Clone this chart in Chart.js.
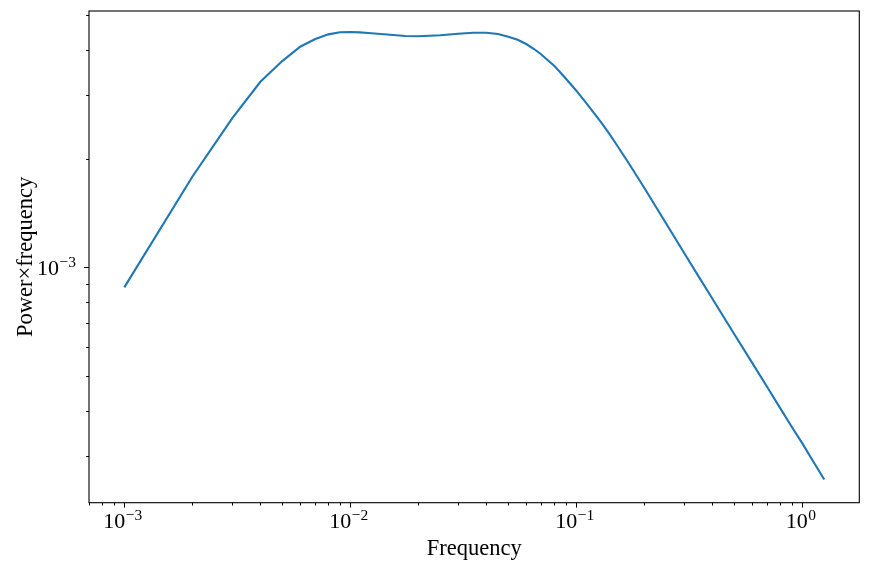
<!DOCTYPE html>
<html>
<head>
<meta charset="utf-8">
<script src="https://cdn.jsdelivr.net/npm/chart.js@4.4.1/dist/chart.umd.min.js"></script>
<style>
html,body{margin:0;padding:0;background:#fff;}
canvas{display:block;}
</style>
</head>
<body>
<canvas id="c" width="869" height="569"></canvas>
<script>
// ---- data ----
const freq = [0.001,0.002,0.003,0.004,0.005,0.006,0.007,0.008,0.009,0.010,0.011,0.012,0.015,0.0175,0.020,0.025,0.030,0.035,0.040,0.045,0.050,0.055,0.060,0.065,0.070,0.075,0.080,0.085,0.090,0.100,0.110,0.120,0.130,0.140,0.150,0.170,0.200,0.250,0.300,0.350,0.400,0.500,0.600,0.700,0.800,0.900,1.000,1.100,1.250];
const powerFreq = [0.000880,0.001782,0.002586,0.003266,0.003727,0.004083,0.004289,0.004419,0.004477,0.004486,0.004474,0.004457,0.004409,0.004373,0.004364,0.004392,0.004437,0.004466,0.004466,0.004428,0.004353,0.004270,0.004155,0.004025,0.003886,0.003740,0.003611,0.003464,0.003328,0.003085,0.002865,0.002671,0.002502,0.002341,0.002196,0.001948,0.001658,0.001320,0.001096,0.0009365,0.0008186,0.0006527,0.0005434,0.0004654,0.0004061,0.0003606,0.0003252,0.0002944,0.0002584];

// axis ranges and tick labels
const xRange = [6.98e-4, 1.786];
const yRange = [2.228e-4, 5.129e-3];
const xMajorTicks = [1e-3, 1e-2, 1e-1, 1];
const xTickExponents = ['\u22123', '\u22122', '\u22121', '0'];
const yMajorTicks = [1e-3];
const yTickExponents = ['\u22123'];
const xTitle = 'Frequency';
const yTitle = 'Power\u00D7frequency';

function logTicks(min, max, majors) {
  const out = [];
  for (let e = -6; e <= 2; e++) {
    for (let k = 1; k <= 9; k++) {
      const v = k * Math.pow(10, e);
      if (v >= min * 0.9999 && v <= max * 1.0001) {
        out.push({ value: v, major: majors.some(m => Math.abs(m - v) / m < 1e-9) });
      }
    }
  }
  return out;
}

const SERIF = '"Liberation Serif", "DejaVu Serif", serif';

const decor = {
  id: 'decor',
  afterDraw(chart) {
    const ctx = chart.ctx, a = chart.chartArea;
    const xs = chart.scales.x, ys = chart.scales.y;
    ctx.save();
    ctx.strokeStyle = '#000';
    ctx.lineWidth = 1.1;
    ctx.strokeRect(a.left, a.top, a.right - a.left, a.bottom - a.top);
    ctx.lineWidth = 1;
    ctx.beginPath();
    xs.ticks.forEach(t => {
      const px = Math.round(xs.getPixelForValue(t.value)) + 0.5;
      const len = t.major ? 4.9 : 2.8;
      ctx.moveTo(px, a.bottom); ctx.lineTo(px, a.bottom + len);
    });
    ys.ticks.forEach(t => {
      const py = Math.round(ys.getPixelForValue(t.value)) + 0.5;
      const len = t.major ? 4.9 : 2.8;
      ctx.moveTo(a.left, py); ctx.lineTo(a.left - len, py);
    });
    ctx.stroke();

    ctx.fillStyle = '#000';
    ctx.textBaseline = 'alphabetic';
    const baseFont = '22px ' + SERIF;
    const supFont = '15.5px ' + SERIF;
    function measure(exp) {
      ctx.font = baseFont; const w1 = ctx.measureText('10').width;
      ctx.font = supFont; const w2 = ctx.measureText(exp).width;
      return [w1, w2];
    }
    function drawLabel(x0, base, exp) {
      const [w1] = measure(exp);
      ctx.textAlign = 'left';
      ctx.font = baseFont; ctx.fillText('10', x0, base);
      ctx.font = supFont; ctx.fillText(exp, x0 + w1 + 0.5, base - 8);
    }
    xMajorTicks.forEach((v, i) => {
      const px = xs.getPixelForValue(v);
      const [w1, w2] = measure(xTickExponents[i]);
      drawLabel(px - (w1 + w2 + 0.5) / 2 - 1.5, a.bottom + 25, xTickExponents[i]);
    });
    yMajorTicks.forEach((v, i) => {
      const py = ys.getPixelForValue(v);
      const [w1, w2] = measure(yTickExponents[i]);
      drawLabel(a.left - 13 - (w1 + w2 + 0.5), py + 8, yTickExponents[i]);
    });

    ctx.font = '22.5px ' + SERIF;
    ctx.textAlign = 'center';
    ctx.fillText(xTitle, (a.left + a.right) / 2, 555);
    ctx.translate(32, (a.top + a.bottom) / 2);
    ctx.rotate(-Math.PI / 2);
    ctx.fillText(yTitle, 0, 0);
    ctx.restore();
  }
};

new Chart(document.getElementById('c'), {
  type: 'scatter',
  data: {
    datasets: [{
      data: freq.map((f, i) => ({ x: f, y: powerFreq[i] })),
      showLine: true,
      borderColor: '#1f77b4',
      borderWidth: 2.1,
      pointRadius: 0,
      tension: 0,
      fill: false
    }]
  },
  options: {
    responsive: false,
    animation: false,
    devicePixelRatio: 1,
    layout: { padding: { left: 0, right: 9.7, top: 11, bottom: 0 } },
    plugins: { legend: { display: false }, tooltip: { enabled: false } },
    scales: {
      x: {
        type: 'logarithmic',
        min: xRange[0], max: xRange[1],
        grid: { display: false }, border: { display: false },
        ticks: { display: false },
        afterBuildTicks: s => { s.ticks = logTicks(xRange[0], xRange[1], xMajorTicks); },
        afterFit: s => { s.height = 569 - 502.7; }
      },
      y: {
        type: 'logarithmic',
        min: yRange[0], max: yRange[1],
        grid: { display: false }, border: { display: false },
        ticks: { display: false },
        afterBuildTicks: s => { s.ticks = logTicks(yRange[0], yRange[1], yMajorTicks); },
        afterFit: s => { s.width = 89; }
      }
    }
  },
  plugins: [decor]
});
</script>
</body>
</html>
